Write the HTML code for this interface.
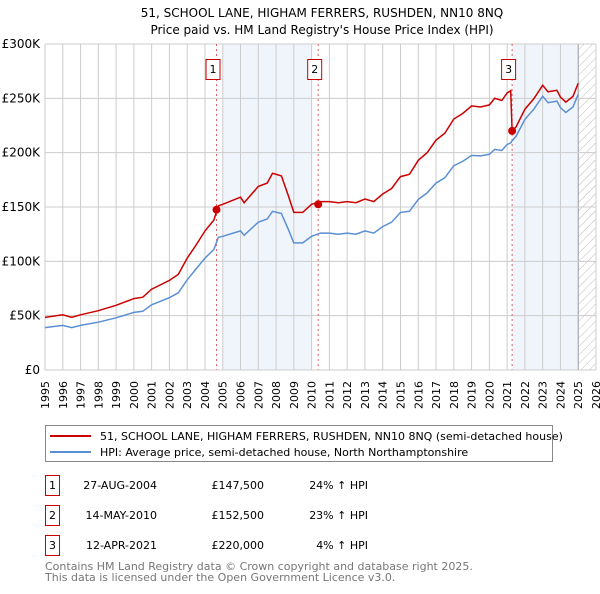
<!DOCTYPE html>
<html><head><meta charset="utf-8"><style>
body{margin:0;background:#fff;width:600px;height:590px;overflow:hidden;font-family:"DejaVu Sans","Liberation Sans",sans-serif;}
svg text{font-family:"DejaVu Sans","Liberation Sans",sans-serif;}
</style></head><body>
<svg id="chart" width="600" height="590" viewBox="0 0 600 590" xmlns="http://www.w3.org/2000/svg">
<defs><pattern id="hatch" width="6" height="6" patternUnits="userSpaceOnUse" patternTransform="rotate(45)"><line x1="0" y1="0" x2="0" y2="6" stroke="#bbb" stroke-width="1"/></pattern></defs>
<text x="322" y="17" font-size="12" text-anchor="middle" fill="#000">51, SCHOOL LANE, HIGHAM FERRERS, RUSHDEN, NN10 8NQ</text>
<text x="322" y="34" font-size="12" text-anchor="middle" fill="#000">Price paid vs. HM Land Registry's House Price Index (HPI)</text>
<g id="plot"></g>
<g>
<rect x="45.5" y="425.5" width="507" height="36" fill="#fff" stroke="#888"/>
<line x1="50" y1="436" x2="91" y2="436" stroke="#cc0000" stroke-width="2"/>
<text x="100" y="440" font-size="11">51, SCHOOL LANE, HIGHAM FERRERS, RUSHDEN, NN10 8NQ (semi-detached house)</text>
<line x1="50" y1="452" x2="91" y2="452" stroke="#5b8fd4" stroke-width="2"/>
<text x="100" y="456" font-size="11">HPI: Average price, semi-detached house, North Northamptonshire</text>
</g>
<g font-size="11">
<rect x="45.5" y="475.5" width="14" height="20" fill="#fff" stroke="#cc0000"/><text x="52.5" y="489" text-anchor="middle">1</text>
<text x="157" y="489" text-anchor="end">27-AUG-2004</text><text x="264" y="489" text-anchor="end">£147,500</text><text x="368" y="489" text-anchor="end">24% ↑ HPI</text>
<rect x="45.5" y="505.5" width="14" height="20" fill="#fff" stroke="#cc0000"/><text x="52.5" y="519" text-anchor="middle">2</text>
<text x="157" y="519" text-anchor="end">14-MAY-2010</text><text x="264" y="519" text-anchor="end">£152,500</text><text x="368" y="519" text-anchor="end">23% ↑ HPI</text>
<rect x="45.5" y="535.5" width="14" height="20" fill="#fff" stroke="#cc0000"/><text x="52.5" y="549" text-anchor="middle">3</text>
<text x="157" y="549" text-anchor="end">12-APR-2021</text><text x="264" y="549" text-anchor="end">£220,000</text><text x="368" y="549" text-anchor="end">4% ↑ HPI</text>
</g>
<text x="45" y="570" font-size="11" fill="#777">Contains HM Land Registry data © Crown copyright and database right 2025.</text>
<text x="45" y="581" font-size="11" fill="#777">This data is licensed under the Open Government Licence v3.0.</text>
</svg>
<script>
const years=[1995,1996,1996.5,1997,1998,1999,2000,2000.5,2001,2002,2002.5,2003,2003.5,2004,2004.5,2004.75,2005,2006,2006.2,2007,2007.5,2007.8,2008.3,2008.7,2009,2009.5,2010,2010.5,2011,2011.5,2012,2012.5,2013,2013.5,2014,2014.5,2015,2015.5,2016,2016.5,2017,2017.5,2018,2018.5,2019,2019.5,2020,2020.3,2020.7,2021,2021.2,2021.28,2021.5,2022,2022.5,2023,2023.3,2023.8,2024,2024.3,2024.7,2025];
const hpiValues=[39,41,39,41,44,48,53,54,60,66.5,71,83,93,103,111,122,123,128,124,136,139,146,144,129,117,117,123,126,126,125,126,125,128,126,132,136,145,146,157,163,172,177,188,192,197.5,197,198.5,203,202,207.5,209,211,215,230.6,240,252,246,247.5,241.4,237,242,253.7];
const priceValues=[48.4,50.8,48.4,50.8,54.6,59.5,65.7,67,74.4,82.5,88,103,115,128,138,151,152.5,159,154,169,172,181,178.6,160,145,145,152.5,155,155,154,155,154,157.4,155,162,167,178,180,193,200,211.5,218,231,236,243,242,244,250,248,255,257,220,223.6,240,249.6,262,256,257.4,251,246.5,251.7,263.8];
const saleYears=[2004.65,2010.37,2021.28];
const salePrices=[147.5,152.5,220];
const saleLabels=["1","2","3"];
const yTicks=[0,50,100,150,200,250,300];
const yTickLabels=["£0","£50K","£100K","£150K","£200K","£250K","£300K"];
const xTicks=[1995,1996,1997,1998,1999,2000,2001,2002,2003,2004,2005,2006,2007,2008,2009,2010,2011,2012,2013,2014,2015,2016,2017,2018,2019,2020,2021,2022,2023,2024,2025,2026];
const X0=45,X1=596,Y0=370,Y1=44;
const xs=v=>X0+(v-1995)/(2026-1995)*(X1-X0);
const ys=v=>Y0-v/300*(Y0-Y1);
const NS="http://www.w3.org/2000/svg";
const g=document.getElementById('plot');
function mk(t,a,p){const e=document.createElementNS(NS,t);for(const k in a)e.setAttribute(k,a[k]);(p||g).appendChild(e);return e;}
let bg=mk('rect',{x:X0,y:Y1,width:X1-X0,height:Y0-Y1,fill:'#fff'});


let s1=mk('rect',{x:xs(2005),y:Y1,width:xs(2010)-xs(2005),height:Y0-Y1,fill:'#f0f5fc'});


let s2=mk('rect',{x:xs(2021.3),y:Y1,width:xs(2025)-xs(2021.3),height:Y0-Y1,fill:'#f0f5fc'});


let h=mk('rect',{x:xs(2025),y:Y1,width:X1-xs(2025),height:Y0-Y1,fill:'url(#hatch)'});


xTicks.forEach((t,i)=>{
 const l=mk('line',{x1:xs(t),x2:xs(t),y1:Y1,y2:Y0,stroke:t===2025?'#999':'#ccc','stroke-width':1});
 
 
 const tx=mk('text',{x:0,y:0,'font-size':11,'text-anchor':'end',transform:`translate(${xs(t)+4},381) rotate(-90)`});
 tx.textContent=String(t);
 
 
});
yTicks.forEach((t,i)=>{
 const l=mk('line',{x1:X0,x2:X1,y1:ys(t),y2:ys(t),stroke:'#ccc','stroke-width':1});
 
 
 const tx=mk('text',{x:40,y:ys(t)+4,'font-size':12,'text-anchor':'end'});
 tx.textContent=yTickLabels[i];
 
 
});
saleYears.forEach((t,i)=>{
 const l=mk('line',{x1:xs(t),x2:xs(t),y1:Y1,y2:Y0,stroke:'#e06060','stroke-width':1,'stroke-dasharray':'2,3'});
 
 
});
const pathOf=arr=>arr.map((v,i)=>(i?'L':'M')+xs(years[i]).toFixed(1)+','+ys(v).toFixed(1)).join('');
const hp=mk('path',{d:pathOf(hpiValues),fill:'none',stroke:'#5b8fd4','stroke-width':1.5});


const pp=mk('path',{d:pathOf(priceValues),fill:'none',stroke:'#cc0000','stroke-width':1.5});


saleYears.forEach((t,i)=>{
 const c=mk('circle',{cx:xs(t),cy:ys(salePrices[i]),r:4,fill:'#cc0000'});
 
 
 const r=mk('rect',{x:xs(t)-10.5,y:59.5,width:14,height:20,fill:'#fff',stroke:'#cc0000'});
 
 
 const tx=mk('text',{x:xs(t)-3.5,y:73,'font-size':11,'text-anchor':'middle'});
 tx.textContent=saleLabels[i];
 
 
});
const ax=mk('line',{x1:X0,x2:X1,y1:Y0,y2:Y0,stroke:'#ccc'});


</script>
</body></html>
